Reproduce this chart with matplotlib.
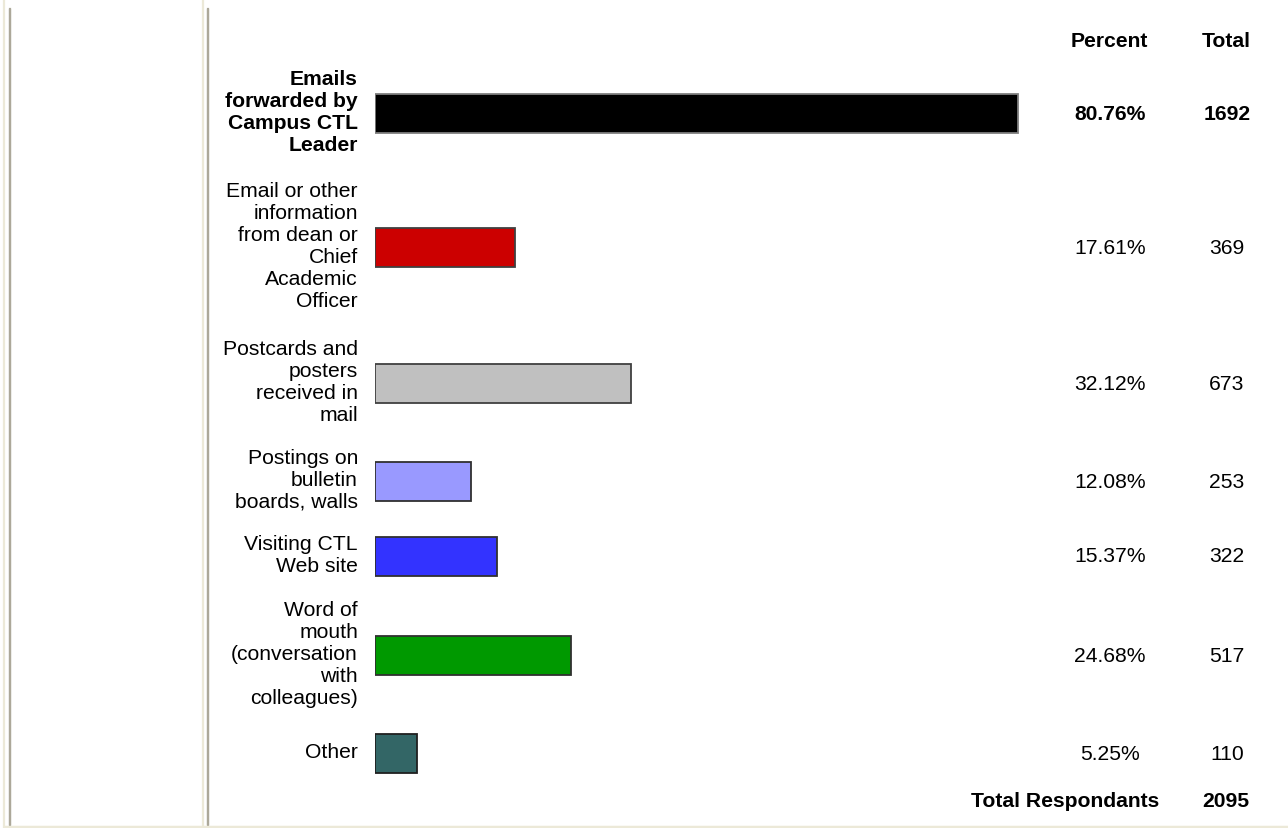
import matplotlib
matplotlib.use("Agg")
import matplotlib.pyplot as plt
from matplotlib.lines import Line2D

categories = [
    "Emails\nforwarded by\nCampus CTL\nLeader",
    "Email or other\ninformation\nfrom dean or\nChief\nAcademic\nOfficer",
    "Postcards and\nposters\nreceived in\nmail",
    "Postings on\nbulletin\nboards, walls",
    "Visiting CTL\nWeb site",
    "Word of\nmouth\n(conversation\nwith\ncolleagues)",
    "Other",
]
percents = [80.76, 17.61, 32.12, 12.08, 15.37, 24.68, 5.25]
totals = [1692, 369, 673, 253, 322, 517, 110]
percent_labels = ["80.76%", "17.61%", "32.12%", "12.08%", "15.37%", "24.68%", "5.25%"]
total_respondants = 2095

colors = ["#000000", "#CC0000", "#C0C0C0", "#9999FF", "#3333FF", "#009900", "#336666"]
edge_colors = ["#7f7f7f", "#404040", "#404040", "#303030", "#303030", "#303030", "#202020"]
row_y = [114, 248, 384, 482, 557, 656, 754]
bold_rows = [True, False, False, False, False, False, False]

W, H = 1288, 829
fig = plt.figure(figsize=(W / 100, H / 100), dpi=100)
fig.patch.set_facecolor("white")

# overlay axes in pixel coordinates for text and borders
ax = fig.add_axes([0, 0, 1, 1])
ax.set_xlim(0, W)
ax.set_ylim(H, 0)
ax.axis("off")

# bar axes: x in percent
bar_left, bar_width = 375, 796
bax = fig.add_axes([bar_left / W, 0, bar_width / W, 1])
bax.set_xlim(0, 100)
bax.set_ylim(H, 0)
bax.axis("off")
bax.barh(row_y, percents, height=39, color=colors, edgecolor=edge_colors,
         linewidth=1.3, align="center")

fs = 15.2
font = "Liberation Sans"

# borders
cream = "#ECE9D8"
gray = "#ACA899"
for x, c, y0 in [(4, cream, 0), (10, gray, 10), (203, cream, 0), (208, gray, 10)]:
    ax.add_line(Line2D([x, x], [y0, H], color=c, linewidth=1.6, solid_capstyle="butt"))
ax.add_line(Line2D([4, W], [827.5, 827.5], color=cream, linewidth=2.5, solid_capstyle="butt"))
ax.add_line(Line2D([10, 10], [10, 825], color=gray, linewidth=1.6))
ax.add_line(Line2D([208, 208], [10, 825], color=gray, linewidth=1.6))

# header
ax.text(1109, 41, "Percent", ha="center", va="center", fontsize=fs, fontweight="bold", family=font)
ax.text(1226, 41, "Total", ha="center", va="center", fontsize=fs, fontweight="bold", family=font)

for lab, y, p, t, b in zip(categories, row_y, percent_labels, totals, bold_rows):
    w = "bold" if b else "normal"
    ax.text(358, y - 2, lab, ha="right", va="center", multialignment="right",
            fontsize=fs, fontweight=w, family=font, linespacing=1.2)
    ax.text(1110, y, p, ha="center", va="center", fontsize=fs, fontweight=w, family=font)
    ax.text(1227, y, str(t), ha="center", va="center", fontsize=fs, fontweight=w, family=font)

ax.text(1159, 802, "Total Respondants", ha="right", va="center", fontsize=fs,
        fontweight="bold", family=font)
ax.text(1226, 802, str(total_respondants), ha="center", va="center", fontsize=fs,
        fontweight="bold", family=font)

fig.savefig("out.png", dpi=100)
